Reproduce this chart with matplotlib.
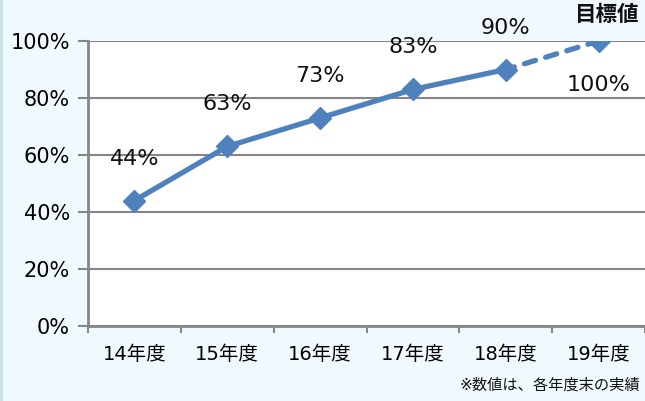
import matplotlib
matplotlib.use("Agg")
import matplotlib.pyplot as plt
from matplotlib.patches import Rectangle

plt.rcParams['font.family'] = ['DejaVu Sans', 'Noto Sans CJK JP']

categories = ['14年度', '15年度', '16年度', '17年度', '18年度', '19年度']
values = [44, 63, 73, 83, 90, 100]
value_labels = ['44%', '63%', '73%', '83%', '90%', '100%']
y_ticks = [0, 20, 40, 60, 80, 100]
y_tick_labels = ['0%', '20%', '40%', '60%', '80%', '100%']
target_label = '目標値'
note = '※数値は、各年度末の実績'

W, H = 645, 401
fig = plt.figure(figsize=(W / 100, H / 100), dpi=100)
fig.patch.set_facecolor('#F0FAFE')
fig.patches.append(Rectangle((0, 0), 3 / W, 1, transform=fig.transFigure,
                             facecolor='#C8E4EA', edgecolor='none'))

ax = fig.add_axes([88 / W, 75 / H, 557 / W, 285 / H])
ax.set_facecolor('white')

color = '#4F81BD'
x = list(range(len(categories)))
ax.plot(x[:5], values[:5], color=color, lw=3.8, solid_capstyle='round', zorder=3)
ax.plot(x[4:], values[4:], color=color, lw=3.8, ls=(0.5, (2.2, 2.0)),
        dash_capstyle='round', zorder=3)
ax.plot(x, values, ls='none', marker='D', ms=11, color=color, zorder=4)

offsets = [-42, -42, -42, -42, -41, 44]
for xi, v, lab, off in zip(x, values, value_labels, offsets):
    ax.annotate(lab, (xi, v), xytext=(0, -off * 0.72), textcoords='offset points',
                ha='center', va='center', fontsize=16, color='#111111')

ax.set_xlim(-0.5, len(categories) - 0.5)
ax.set_ylim(0, 100)
ax.set_yticks(y_ticks)
ax.set_yticklabels(y_tick_labels, fontsize=15)
ax.set_xticks([i - 0.5 for i in range(len(categories) + 1)])
ax.set_xticklabels([])
ax.set_xticks(x, minor=True)
ax.set_xticklabels(categories, minor=True, fontsize=14)
ax.tick_params(axis='x', which='minor', length=0, pad=14)
ax.tick_params(axis='x', which='major', length=5, width=1.5, color='#868686')
ax.tick_params(axis='y', length=7, width=1.5, color='#868686', pad=6)

ax.grid(axis='y', color='#868686', lw=1.5)
ax.set_axisbelow(True)
for s in ['top', 'right']:
    ax.spines[s].set_visible(False)
for s in ['left', 'bottom']:
    ax.spines[s].set_color('#868686')
    ax.spines[s].set_linewidth(2)

fig.text(607 / W, 1 - 15 / H, target_label, ha='center', va='center',
         fontsize=15.5, fontweight='bold', color='#111111')
fig.text(640 / W, 1 - 385 / H, note, ha='right', va='center', fontsize=11,
         color='#111111')

fig.savefig('out.png', dpi=100, facecolor=fig.get_facecolor())
